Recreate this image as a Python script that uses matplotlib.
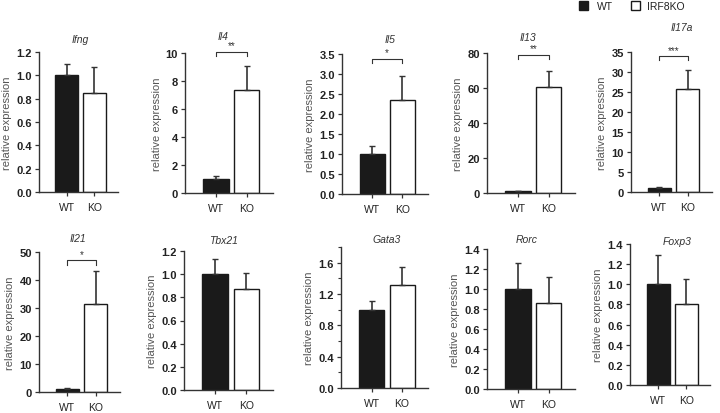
import matplotlib
matplotlib.use("Agg")
import matplotlib.pyplot as plt
from matplotlib.ticker import MultipleLocator
from matplotlib.patches import Rectangle

plt.rcParams['font.family'] = ['Liberation Sans', 'DejaVu Sans']

genes = ["Ifng", "Il4", "Il5", "Il13", "Il17a", "Il21", "Tbx21", "Gata3", "Rorc", "Foxp3"]
groups = ["WT", "KO"]
wt_mean = [1.0, 1.0, 1.0, 1.0, 1.0, 1.0, 1.0, 1.0, 1.0, 1.0]
wt_err = [0.10, 0.20, 0.20, 0.30, 0.30, 0.50, 0.13, 0.11, 0.26, 0.29]
ko_mean = [0.85, 7.35, 2.36, 60.8, 25.8, 31.3, 0.87, 1.32, 0.86, 0.80]
ko_err = [0.22, 1.70, 0.59, 9.2, 4.6, 12.0, 0.14, 0.22, 0.26, 0.25]
ymax = [1.2, 10, 3.5, 80, 35, 50, 1.2, 1.8, 1.4, 1.4]
ystep = [0.2, 2, 0.5, 20, 5, 10, 0.2, 0.4, 0.2, 0.2]
signif = ["", "**", "*", "**", "***", "*", "", "", "", ""]
sig_y = [None, 10.1, 3.38, 79, 34, 47, None, None, None, None]
legend_labels = ["WT", "IRF8KO"]

# layout: (axis_left_px, axis_right_px, ytop_px, yzero_px)
layout = [
    (39, 118, 53, 193), (185, 273, 54, 194), (342, 428, 55, 195), (487, 575, 54, 194), (631, 712, 53, 193),
    (39, 120, 253, 393), (184, 273, 252, 391), (341, 428, 248, 389), (487, 575, 250, 390), (630, 710, 245, 386),
]
# title positions in pixels (x center, y center)
title_pos = [(80, 40), (223, 37), (390, 40), (528, 38), (682, 28),
             (78, 239), (223, 241), (387, 240), (527, 240), (677, 242)]

W, H = 720, 414
fig = plt.figure(figsize=(7.2, 4.14), dpi=100)
fs = 8

for i, g in enumerate(genes):
    xl, xr, yt, y0 = layout[i]
    ax = fig.add_axes([xl / W, 1 - y0 / H, (xr - xl) / W, (y0 - yt) / H])
    ax.set_xlim(-1.0, 1.85)
    ax.set_ylim(0, ymax[i])
    ax.bar([0, 1], [wt_mean[i], ko_mean[i]], width=0.82,
           color=["#1a1a1a", "white"], edgecolor="#1a1a1a", linewidth=1.0, zorder=2)
    ax.errorbar([0, 1], [wt_mean[i], ko_mean[i]], yerr=[[0, 0], [wt_err[i], ko_err[i]]],
                fmt="none", ecolor="#333333", elinewidth=1.2, capsize=2, capthick=1.0, zorder=3, clip_on=False)
    for s in ["top", "right"]:
        ax.spines[s].set_visible(False)
    for s in ["left", "bottom"]:
        ax.spines[s].set_linewidth(1.0)
        ax.spines[s].set_color("#333333")
    ax.yaxis.set_major_locator(MultipleLocator(ystep[i]))
    if g == "Gata3":
        ax.yaxis.set_minor_locator(MultipleLocator(0.2))
        ax.tick_params(axis="y", which="minor", length=2, width=0.8, color="#333333")
    ax.set_xticks([0, 1])
    ax.set_xticklabels(groups, fontsize=7.5, color="#222222")
    ax.tick_params(axis="both", direction="out", length=3, width=0.9, color="#333333", pad=2)
    ax.tick_params(axis="x", pad=4)
    for lab in ax.get_yticklabels():
        lab.set_fontweight("bold")
        lab.set_fontsize(fs)
        lab.set_color("#222222")
    ax.set_ylabel("relative expression", fontsize=fs, color="#555555", labelpad=3)
    tx, ty = title_pos[i]
    fig.text(tx / W, 1 - ty / H, g, fontsize=7.5, style="italic", color="#333333",
             ha="center", va="center")
    if signif[i]:
        yb = sig_y[i]
        d = ymax[i] * 0.03
        ax.plot([0, 0, 1, 1], [yb - d, yb, yb, yb - d], color="#333333", lw=0.8, clip_on=False)
        ax.text(0.5, yb + d * 0.3, signif[i], ha="center", va="bottom", fontsize=7, color="#333333")

# legend
fig.patches.append(Rectangle((579 / W, 1 - 10.5 / H), 8.5 / W, 8.5 / H, transform=fig.transFigure,
                             facecolor="#1a1a1a", edgecolor="#1a1a1a", lw=1))
fig.text(597 / W, 1 - 6.5 / H, legend_labels[0], fontsize=7.5, va="center", ha="left", color="#222222")
fig.patches.append(Rectangle((631 / W, 1 - 10.5 / H), 8.5 / W, 8.5 / H, transform=fig.transFigure,
                             facecolor="white", edgecolor="#1a1a1a", lw=1))
fig.text(647 / W, 1 - 6.5 / H, legend_labels[1], fontsize=7.5, va="center", ha="left", color="#222222")

fig.savefig("out.png", dpi=100)
